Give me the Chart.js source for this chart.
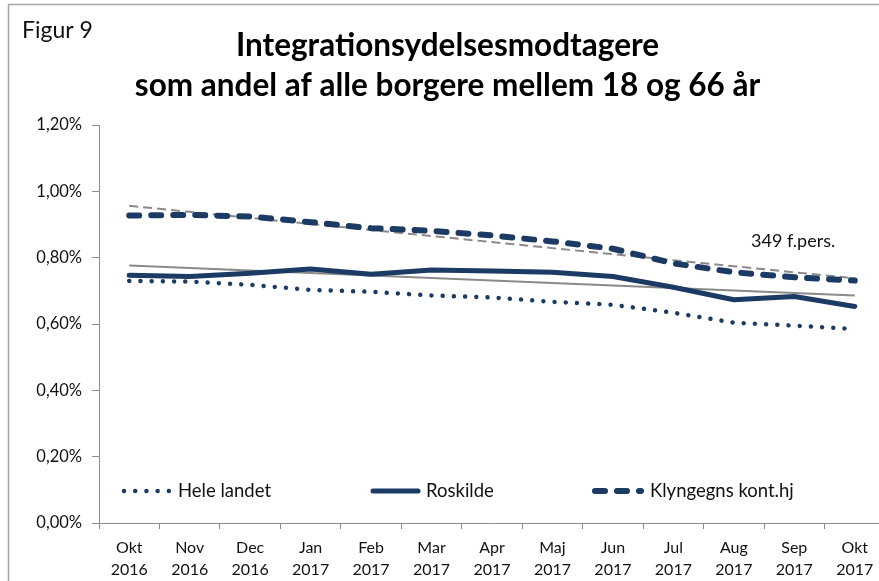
<!DOCTYPE html>
<html><head><meta charset="utf-8">
<script src="https://cdn.jsdelivr.net/npm/chart.js@4.4.1/dist/chart.umd.min.js"></script>
<style>html,body{margin:0;padding:0;overflow:hidden;background:#fff}#wrap{width:890px;height:581px}</style>
</head><body><div id="wrap"><canvas id="c" width="890" height="581"></canvas></div>
<script>
// ---- data ----
const months = ['Okt','Nov','Dec','Jan','Feb','Mar','Apr','Maj','Jun','Jul','Aug','Sep','Okt'];
const years  = ['2016','2016','2016','2017','2017','2017','2017','2017','2017','2017','2017','2017','2017'];
const heleLandet = [0.730,0.728,0.718,0.703,0.697,0.686,0.680,0.667,0.658,0.634,0.604,0.595,0.585];
const roskilde   = [0.747,0.743,0.753,0.766,0.750,0.763,0.760,0.756,0.743,0.711,0.673,0.683,0.653];
const klyngegns  = [0.927,0.929,0.924,0.907,0.889,0.881,0.867,0.849,0.827,0.783,0.756,0.741,0.731];
const seriesNames = ['Hele landet','Roskilde','Klyngegns kont.hj'];
const yTicks = [0,0.2,0.4,0.6,0.8,1.0,1.2];
const chartTitle = ['Integrationsydelsesmodtagere','som andel af alle borgere mellem 18 og 66 år'];
const figureLabel = 'Figur 9';
const annotationText = '349 f.pers.';

// ---- helpers ----
const labels = months.map((m,i)=>[m, years[i]]);
function linearTrend(vals){
  const n = vals.length; let sx=0, sy=0, sxy=0, sxx=0;
  vals.forEach((v,i)=>{sx+=i; sy+=v; sxy+=i*v; sxx+=i*i;});
  const b = (n*sxy - sx*sy)/(n*sxx - sx*sx); const a = (sy - b*sx)/n;
  return vals.map((_,i)=>a + b*i);
}
const NAVY = '#1b3a64';
const GRAY = '#8a8a8a';
const FONT = 'Lato';

const framePlugin = {
  id:'frame',
  beforeDraw(chart){
    const ctx = chart.ctx;
    ctx.save();
    ctx.fillStyle = '#fff'; ctx.fillRect(0,0,chart.width,chart.height);
    ctx.strokeStyle = '#a6a6a6'; ctx.lineWidth = 1.5;
    ctx.strokeRect(8.5, 4.5, 2000, 2000);
    ctx.fillStyle = '#111'; ctx.font = '23px ' + FONT; ctx.textBaseline = 'middle';
    ctx.fillText(figureLabel, 22, 31);
    ctx.restore();
  },
  afterDatasetsDraw(chart){
    const ctx = chart.ctx;
    ctx.save();
    // annotation
    ctx.fillStyle = '#111'; ctx.font = '18px ' + FONT; ctx.textBaseline = 'middle';
    ctx.fillText(annotationText, 751, 241);
    // inline legend
    const y = 491;
    const items = [{ds:0,x0:124,x1:170,tx:178},{ds:1,x0:373,x1:418,tx:426},{ds:2,x0:595,x1:641,tx:650}];
    items.forEach(it=>{
      const d = chart.data.datasets[it.ds];
      ctx.save();
      ctx.strokeStyle = d.borderColor; ctx.lineWidth = d.borderWidth;
      ctx.setLineDash(d.borderDash || []); ctx.lineCap = d.borderCapStyle || 'butt';
      ctx.beginPath(); ctx.moveTo(it.x0,y); ctx.lineTo(it.x1,y); ctx.stroke();
      ctx.setLineDash([]);
      ctx.fillStyle = '#111'; ctx.font = '18.5px ' + FONT; ctx.textBaseline = 'middle';
      ctx.fillText(d.label, it.tx, y);
      ctx.restore();
    });
    ctx.restore();
  }
};

new Chart(document.getElementById('c'), {
  type:'line',
  data:{
    labels: labels,
    datasets:[
      {label:seriesNames[0], data:heleLandet, borderColor:NAVY, borderWidth:4.5, borderDash:[0.01,11.2], borderCapStyle:'round', pointRadius:0, fill:false, tension:0},
      {label:seriesNames[1], data:roskilde, borderColor:NAVY, borderWidth:5, borderCapStyle:'round', borderJoinStyle:'round', pointRadius:0, fill:false, tension:0},
      {label:seriesNames[2], data:klyngegns, borderColor:NAVY, borderWidth:6, borderDash:[10,12], borderCapStyle:'round', borderJoinStyle:'round', pointRadius:0, fill:false, tension:0},
      {label:'Trend Roskilde', data:linearTrend(roskilde), borderColor:GRAY, borderWidth:2, pointRadius:0, fill:false, tension:0},
      {label:'Trend Klyngegns', data:linearTrend(klyngegns), borderColor:GRAY, borderWidth:2, borderDash:[9,5], pointRadius:0, fill:false, tension:0}
    ]
  },
  options:{
    responsive:false, animation:false, devicePixelRatio:1,
    layout:{padding:{left:10, right:5, top:0, bottom:0}},
    plugins:{
      legend:{display:false}, tooltip:{enabled:false},
      title:{display:true, text:chartTitle, color:'#000',
        font:{family:FONT, size:31.5, weight:'bold', lineHeight:40/31.5},
        padding:{top:26, bottom:19}}
    },
    scales:{
      x:{
        offset:true,
        grid:{offset:true, drawOnChartArea:false, drawTicks:true, tickLength:6, color:'#8c8c8c'},
        border:{color:'#8c8c8c', width:1},
        ticks:{color:'#111', font:{family:FONT, size:16, lineHeight:22/16}, padding:8, maxRotation:0, autoSkip:false},
        afterFit(s){ s.height = 58; }
      },
      y:{
        min:0, max:1.2,
        afterBuildTicks(s){ s.ticks = yTicks.map(v=>({value:v})); },
        grid:{drawOnChartArea:false, drawTicks:true, tickLength:7, color:'#8c8c8c'},
        border:{color:'#8c8c8c', width:1},
        ticks:{color:'#111', font:{family:FONT, size:16.5}, padding:10,
          callback:v=>v.toFixed(2).replace('.',',')+'%'},
        afterFit(s){ s.width = 89; }
      }
    }
  },
  plugins:[framePlugin]
});
</script>
</body></html>
